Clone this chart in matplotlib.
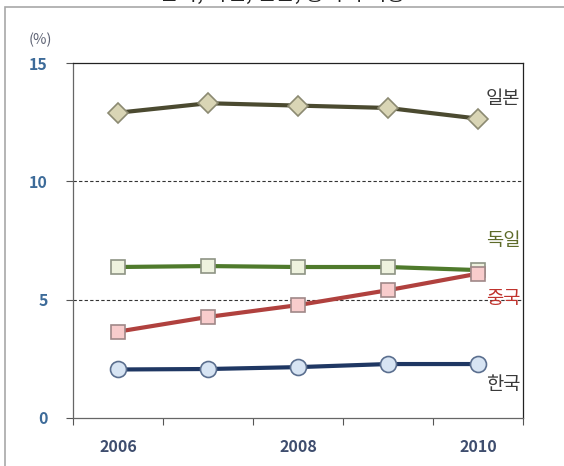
import matplotlib
matplotlib.use("Agg")
import matplotlib.pyplot as plt
from matplotlib.patches import Rectangle

plt.rcParams['font.family'] = ['Noto Sans CJK KR', 'DejaVu Sans']

years = [2006, 2007, 2008, 2009, 2010]
xtick_labels = ['2006', '', '2008', '', '2010']
japan = [12.9, 13.3, 13.2, 13.1, 12.65]
germany = [6.38, 6.42, 6.38, 6.38, 6.25]
china = [3.65, 4.27, 4.77, 5.4, 6.1]
korea = [2.05, 2.07, 2.15, 2.28, 2.28]
series_names = ['일본', '독일', '중국', '한국']
yticks = [0, 5, 10, 15]

fig = plt.figure(figsize=(5.64, 4.66), dpi=100)
W, H = 564, 466
# axes: left 73, right 523, top 63, bottom 418 (pixels)
ax = fig.add_axes([73 / W, 1 - 418 / H, (523 - 73) / W, (418 - 63) / H])

# outer frame of the source picture
fig.patches.append(Rectangle((5 / W, -0.1), 1.2, 1 - 7 / H + 0.1, transform=fig.transFigure,
                             fill=False, edgecolor='#a8a8a8', linewidth=1.2))
# clipped title at the very top
fig.text(0.5, 1 + 6 / H, '한국, 독일, 일본, 중국의 비중', ha='center', va='center',
         fontsize=15, color='#222222')

x = list(range(len(years)))

ax.plot(x, japan, color='#4b4a30', lw=3, marker='D', ms=10.5,
        mfc='#d9d5b5', mec='#8c8a72', mew=1.2, zorder=5)
ax.plot(x, germany, color='#4f7a2c', lw=3, marker='s', ms=10,
        mfc='#eef2de', mec='#8e9484', mew=1.2, zorder=5)
ax.plot(x, china, color='#b0413e', lw=3, marker='s', ms=10,
        mfc='#f8cccc', mec='#a08888', mew=1.2, zorder=6)
ax.plot(x, korea, color='#1f3763', lw=3, marker='o', ms=11.5,
        mfc='#d7e4f3', mec='#5b6f8f', mew=1.2, zorder=5)

ax.set_xlim(-0.5, 4.5)
ax.set_ylim(0, 15)

for yv in [5, 10]:
    ax.axhline(yv, color='#333333', lw=0.8, ls=(0, (3, 2)), zorder=1)

ax.set_yticks(yticks)
ax.set_yticklabels([str(v) for v in yticks], fontsize=11.5, fontweight='bold', color='#3d6b99')
ax.tick_params(axis='y', direction='out', length=5, width=0.8, color='#555555', pad=13)

ax.set_xticks(x)
ax.set_xticklabels(xtick_labels, fontsize=11.5, fontweight='bold', color='#3e4d6e')
ax.set_xticks([i - 0.5 for i in range(6)], minor=True)
ax.tick_params(axis='x', which='major', length=0, pad=15)
ax.tick_params(axis='x', which='minor', direction='out', length=5, width=0.8, color='#555555')

for s in ['left', 'bottom']:
    ax.spines[s].set_color('#666666')
    ax.spines[s].set_linewidth(0.9)
for s in ['top', 'right']:
    ax.spines[s].set_color('#222222')
    ax.spines[s].set_linewidth(0.9)

fig.text(40 / W, 1 - 40 / H, '(%)', ha='center', va='center', fontsize=10.5, color='#5f6475')

label_colors = ['#3a3a3a', '#5e6b2a', '#c0342e', '#3a3a3a']
label_y = [13.5, 7.5, 5.05, 1.4]
for name, yv, c in zip(series_names, label_y, label_colors):
    ax.text(4.47, yv, name, ha='right', va='center', fontsize=13.5, color=c, zorder=7)

fig.savefig('out.png', dpi=100)
